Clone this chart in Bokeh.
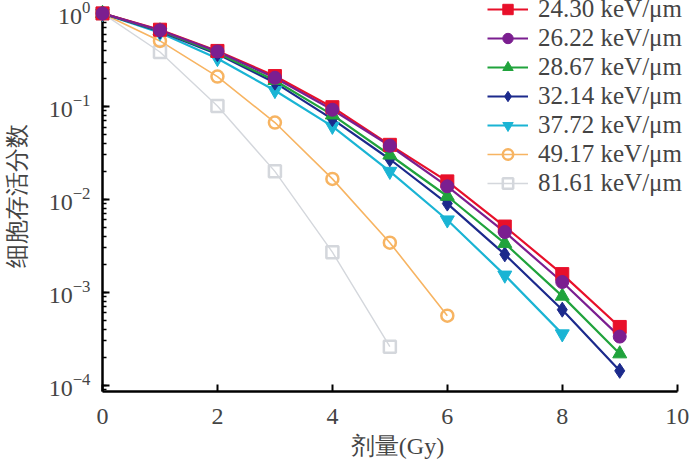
from bokeh.plotting import figure
from bokeh.models import Range1d, Legend, LegendItem
from bokeh.embed import file_html
from bokeh.resources import INLINE

# dose (Gy) and surviving fraction
dose = [0, 1, 2, 3, 4, 5, 6, 7, 8, 9]
let_labels = ["24.30 keV/\u03bcm", "26.22 keV/\u03bcm", "28.67 keV/\u03bcm",
              "32.14 keV/\u03bcm", "37.72 keV/\u03bcm", "49.17 keV/\u03bcm",
              "81.61 keV/\u03bcm"]
sf_2430 = [1.0, 0.668, 0.395, 0.212, 0.098, 0.0386, 0.0156, 0.0051, 0.00157, 0.000424]
sf_2622 = [1.0, 0.66, 0.39, 0.203, 0.092, 0.0377, 0.0138, 0.00445, 0.00129, 0.000334]
sf_2867 = [1.0, 0.65, 0.375, 0.19, 0.081, 0.030, 0.0108, 0.00336, 0.00091, 0.000218]
sf_3214 = [1.0, 0.64, 0.365, 0.18, 0.073, 0.027, 0.0090, 0.00256, 0.00065, 0.000143]
sf_3772 = [1.0, 0.62, 0.327, 0.148, 0.061, 0.020, 0.0060, 0.00153, 0.000357]
sf_4917 = [1.0, 0.506, 0.209, 0.067, 0.0166, 0.00342, 0.00056]
sf_8161 = [1.0, 0.385, 0.101, 0.020, 0.0027, 0.00026]

series = [sf_2430, sf_2622, sf_2867, sf_3214, sf_3772, sf_4917, sf_8161]
colors = ["#E8102A", "#7B1E90", "#20A33C", "#1C2A8C", "#1AB4D4", "#F7B462", "#D4D7DC"]
markers = ["square", "circle", "triangle", "diamond", "inverted_triangle", "circle", "square"]
filled = [True, True, True, True, True, False, False]
sizes = [13, 13, 14, 15, 14, 13, 13]
widths = [2.2, 2.2, 2.2, 2.2, 2.2, 1.6, 1.4]

ymin = 10 ** -4.067
# frame runs past x=10 and y=1 so the legend has room; the axis lines stop at the data bounds
p = figure(width=692, height=461, y_axis_type="log",
           x_range=Range1d(0, 10.266), y_range=Range1d(ymin, 10 ** 0.139),
           output_backend="svg", toolbar_location=None,
           min_border_left=102, min_border_right=0, min_border_top=0, min_border_bottom=68)
p.outline_line_color = None
p.grid.visible = False

items = {}
order = [6, 5, 4, 3, 2, 0, 1]
for i in order:
    y = series[i]
    x = dose[:len(y)]
    r_line = p.line(x, y, color=colors[i], line_width=widths[i])
    if filled[i]:
        r_mark = p.scatter(x, y, marker=markers[i], size=sizes[i], level="overlay",
                           fill_color=colors[i], line_color=colors[i])
    else:
        r_mark = p.scatter(x, y, marker=markers[i], size=sizes[i] - 1, level="overlay",
                           fill_color=None, line_color=colors[i], line_width=2.5)
    items[i] = LegendItem(label=let_labels[i], renderers=[r_line, r_mark])

legend = Legend(items=[items[i] for i in range(7)], location=(385, 194),
                padding=0, margin=0, spacing=1, glyph_width=41, glyph_height=26,
                label_height=26, label_standoff=10, border_line_color=None,
                background_fill_alpha=0,
                label_text_font="Liberation Serif", label_text_font_size="25px")
p.add_layout(legend, "center")

for ax in (p.xaxis[0], p.yaxis[0]):
    ax.axis_line_width = 2.5
    ax.major_tick_line_width = 2
    ax.minor_tick_line_width = 1.5
    ax.major_tick_in = 7
    ax.major_tick_out = 0
    ax.minor_tick_in = 4
    ax.minor_tick_out = 0
    ax.major_label_text_font = "Liberation Serif"
    ax.major_label_text_font_size = "24px"
    ax.axis_label_text_font = "Liberation Serif"
    ax.axis_label_text_font_size = "24px"
    ax.axis_label_text_font_style = "normal"

p.xaxis.bounds = (0, 10)
p.xaxis.ticker = [0, 2, 4, 6, 8, 10]
p.xaxis.major_label_standoff = 17
p.xaxis.axis_label = "剂量(Gy)"
p.xaxis.axis_label_standoff = 6

p.yaxis.bounds = (ymin, 1)
p.yaxis.major_label_standoff = 12
p.yaxis.axis_label = "细胞存活分数"
p.yaxis.axis_label_standoff = 16

open("out.html", "w").write(file_html(p, INLINE))
